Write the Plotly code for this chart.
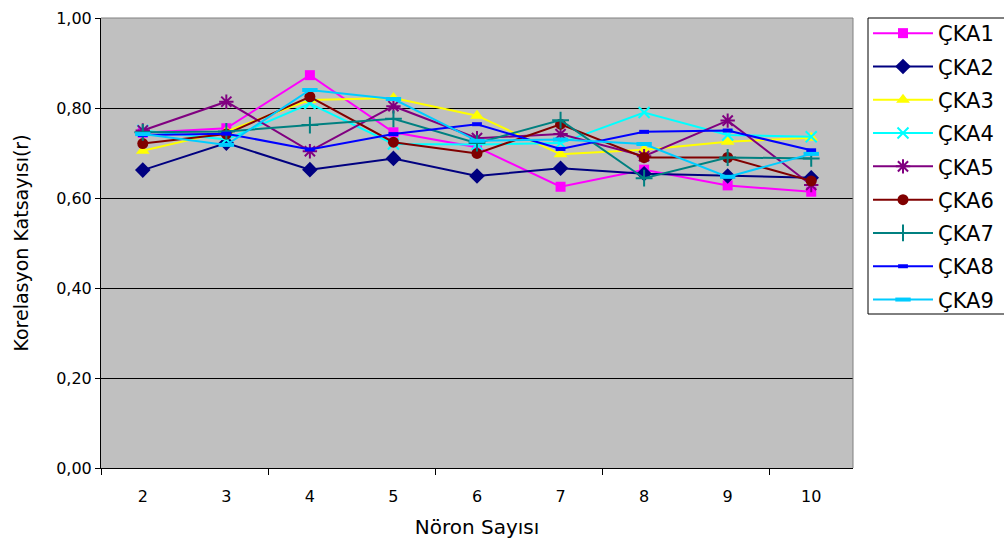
import plotly.graph_objects as go

# Neuron counts on the x axis
noron_sayisi = [2, 3, 4, 5, 6, 7, 8, 9, 10]

# Correlation coefficient (r) for each network configuration
cka1 = [0.745, 0.755, 0.873, 0.746, 0.713, 0.625, 0.663, 0.628, 0.614]
cka2 = [0.662, 0.722, 0.663, 0.688, 0.649, 0.666, 0.654, 0.649, 0.645]
cka3 = [0.705, 0.748, 0.818, 0.822, 0.783, 0.697, 0.707, 0.725, 0.734]
cka4 = [0.750, 0.730, 0.810, 0.720, 0.719, 0.722, 0.790, 0.740, 0.736]
cka5 = [0.750, 0.814, 0.704, 0.804, 0.733, 0.742, 0.693, 0.772, 0.629]
cka6 = [0.721, 0.742, 0.825, 0.724, 0.699, 0.764, 0.690, 0.690, 0.638]
cka7 = [0.746, 0.748, 0.762, 0.776, 0.722, 0.773, 0.644, 0.690, 0.688]
cka8 = [0.740, 0.743, 0.708, 0.742, 0.764, 0.709, 0.747, 0.750, 0.706]
cka9 = [0.742, 0.718, 0.840, 0.820, 0.727, 0.730, 0.720, 0.647, 0.698]

series_names = ["ÇKA1", "ÇKA2", "ÇKA3", "ÇKA4", "ÇKA5", "ÇKA6", "ÇKA7", "ÇKA8", "ÇKA9"]
series_values = [cka1, cka2, cka3, cka4, cka5, cka6, cka7, cka8, cka9]

y_ticks = [0.0, 0.2, 0.4, 0.6, 0.8, 1.0]

# Line colour and marker style per series
styles = [
    dict(color="#FF00FF", symbol="square", size=10, lw=0),
    dict(color="#000080", symbol="diamond", size=12, lw=0),
    dict(color="#FFFF00", symbol="triangle-up", size=12, lw=0),
    dict(color="#00FFFF", symbol="x-thin-open", size=11, lw=2),
    dict(color="#800080", symbol="asterisk-open", size=12, lw=2),
    dict(color="#800000", symbol="circle", size=11, lw=0),
    dict(color="#008080", symbol="cross-thin-open", size=12, lw=2),
    dict(color="#0000FF", symbol="line-ew-open", size=7, lw=4),
    dict(color="#00CCFF", symbol="line-ew-open", size=11, lw=4),
]

FONT = "DejaVu Sans"

# Plot-area geometry in pixels, used to place the legend frame
PLOT_L, PLOT_T, PLOT_W, PLOT_H = 101, 18, 752, 450


def px_x(px):
    return (px - PLOT_L) / PLOT_W


def px_y(px):
    return 1 - (px - PLOT_T) / PLOT_H


fig = go.Figure()
for name, vals, st in zip(series_names, series_values, styles):
    fig.add_trace(go.Scatter(
        x=noron_sayisi, y=vals, name=name, legendgroup=name,
        mode="lines+markers",
        line=dict(color=st["color"], width=2),
        marker=dict(symbol=st["symbol"], size=st["size"], color=st["color"],
                    line=dict(color=st["color"], width=st["lw"])),
    ))

fig.update_layout(
    width=1004, height=543,
    margin=dict(l=PLOT_L, r=1004 - PLOT_L - PLOT_W, t=PLOT_T, b=543 - PLOT_T - PLOT_H,
                autoexpand=False),
    paper_bgcolor="white",
    plot_bgcolor="#C0C0C0",
    separators=",.",
    font=dict(family=FONT, size=16, color="black"),
    showlegend=True,
    legend=dict(
        x=px_x(868), xanchor="left", y=px_y(13), yanchor="top",
        bgcolor="rgba(0,0,0,0)", borderwidth=0,
        font=dict(family=FONT, size=21, color="black"),
        itemwidth=60, tracegroupgap=3, traceorder="grouped",
        maxheight=500,
    ),
    xaxis=dict(
        range=[1.5, 10.5],
        tickvals=noron_sayisi, ticktext=[str(v) for v in noron_sayisi],
        ticks="", showgrid=False, zeroline=False,
        showline=True, linecolor="black", linewidth=1,
        ticklabelstandoff=14,
        minor=dict(tickvals=[1.5, 3.5, 5.5, 7.5, 9.5], ticks="outside",
                   ticklen=6, tickcolor="black", showgrid=False),
        title=dict(text="Nöron Sayısı", font=dict(family=FONT, size=20), standoff=14),
    ),
    yaxis=dict(
        range=[0, 1], tickvals=y_ticks, tickformat=".2f",
        ticks="outside", ticklen=5, tickcolor="black",
        showgrid=True, gridcolor="black", gridwidth=1, zeroline=False,
        showline=True, linecolor="black", linewidth=1,
        title=dict(text="Korelasyon Katsayısı(r)", font=dict(family=FONT, size=19), standoff=22),
    ),
)

# Grey frame along the top and right of the plotting area
fig.add_shape(type="line", xref="paper", yref="paper", x0=0, x1=1, y0=1, y1=1,
              line=dict(color="#808080", width=1))
fig.add_shape(type="line", xref="paper", yref="paper", x0=1, x1=1, y0=0, y1=1,
              line=dict(color="#808080", width=1))

# Legend frame
fig.add_shape(type="rect", xref="paper", yref="paper",
              x0=px_x(868), x1=px_x(1012), y0=px_y(314), y1=px_y(18),
              line=dict(color="black", width=1), fillcolor="rgba(0,0,0,0)")

fig.write_html("out.html")
